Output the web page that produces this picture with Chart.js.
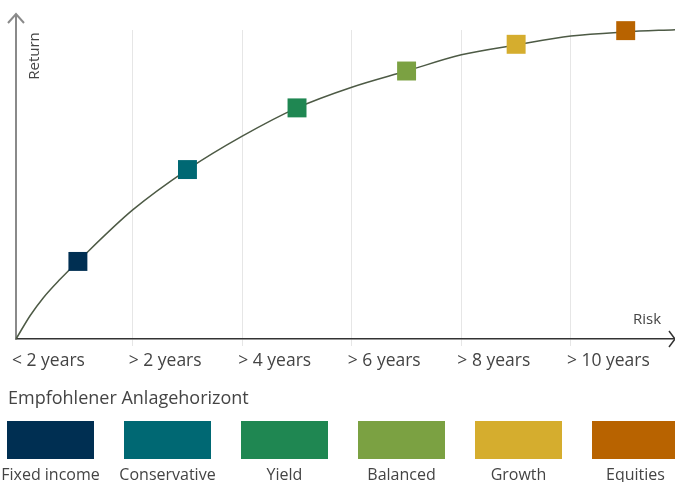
<!DOCTYPE html>
<html>
<head>
<meta charset="utf-8">
<script src="https://cdn.jsdelivr.net/npm/chart.js@4"></script>
<style>
  body { margin: 0; background: #fff; font-family: "Open Sans", sans-serif; color: #444; overflow: hidden; }
  #wrap { position: relative; width: 675px; height: 482px; }
  #wrap canvas { position: absolute; left: 0; top: 0; }
  #horizon { position: absolute; left: 8px; top: 385px; font-size: 18px; }
  #legend { position: absolute; left: 7px; top: 421px; }
  .item { position: absolute; top: 0; width: 87px; text-align: center; }
  .box { width: 87px; height: 38px; }
  .lbl { font-size: 16px; margin-top: 4px; white-space: nowrap; margin-left: -20px; margin-right: -20px; }
</style>
</head>
<body>
<div id="wrap">
  <canvas id="riskChart" width="675" height="482"></canvas>
  <div id="horizon">Empfohlener Anlagehorizont</div>
  <div id="legend"></div>
</div>
<script>
// x axis: years, y axis: return (0..~97)
var tickLabels = ["< 2 years", "> 2 years", "> 4 years", "> 6 years", "> 8 years", "> 10 years"];
var tickValues = [-0.13, 2, 4, 6, 8, 10];

// efficient frontier curve
var curveX = [-0.13, 0.13, 0.37, 0.67, 1, 2, 3, 4, 5, 6, 7, 8, 9, 10, 11, 11.9];
var curveY = [0, 7.4, 13, 18.7, 24.4, 40.6, 53.3, 63.8, 72.7, 79.2, 84.3, 89.4, 92.5, 95.3, 96.6, 97.3];

// portfolio squares
var products = ["Fixed income", "Conservative", "Yield", "Balanced", "Growth", "Equities"];
var productX = [1, 3, 5, 7, 9, 11];
var productY = [24.4, 53.3, 72.7, 84.3, 92.7, 97.0];
var productColors = ["#002f52", "#006873", "#1f8752", "#7ba142", "#d5ad2e", "#b86300"];

var axisDecor = {
    id: "axisDecor",
    afterDraw: function (chart) {
        var c = chart.ctx, a = chart.chartArea;
        c.save();
        // y axis extension + arrow
        c.strokeStyle = "#8a8a8a";
        c.lineWidth = 2;
        c.beginPath();
        c.moveTo(a.left, a.top);
        c.lineTo(a.left, 14);
        c.moveTo(a.left - 8, 23);
        c.lineTo(a.left, 14);
        c.lineTo(a.left + 8, 23);
        c.stroke();
        // x axis arrow
        c.strokeStyle = "#333";
        c.lineWidth = 1.5;
        c.beginPath();
        c.moveTo(a.right - 6, a.bottom - 8);
        c.lineTo(a.right, a.bottom);
        c.lineTo(a.right - 6, a.bottom + 8);
        c.stroke();
        // axis names
        c.fillStyle = "#444";
        c.font = "15px 'Open Sans'";
        c.textAlign = "center";
        c.textBaseline = "middle";
        c.fillText("Risk", 647, 320);
        c.translate(35, 56);
        c.rotate(-Math.PI / 2);
        c.fillText("Return", 0, 0);
        c.restore();
    }
};

var ctx = document.getElementById("riskChart").getContext("2d");
var riskChart = new Chart(ctx, {
    type: "scatter",
    data: {
        datasets: [{
            data: productX.map(function (x, i) { return { x: x, y: productY[i] }; }),
            pointStyle: "rect",
            pointRadius: 13.4,
            pointHoverRadius: 13.4,
            pointBorderWidth: 0,
            backgroundColor: productColors,
            clip: false,
            order: 0
        }, {
            type: "line",
            data: curveX.map(function (x, i) { return { x: x, y: curveY[i] }; }),
            borderColor: "#4d5a45",
            borderWidth: 1.5,
            pointRadius: 0,
            cubicInterpolationMode: "monotone",
            fill: false,
            clip: false,
            order: 1
        }]
    },
    options: {
        responsive: false,
        animation: false,
        layout: { autoPadding: false, padding: { left: 16, right: 0, top: 30, bottom: 105 } },
        plugins: { legend: { display: false }, tooltip: { enabled: false } },
        scales: {
            x: {
                type: "linear",
                min: -0.13,
                max: 11.9,
                afterBuildTicks: function (axis) {
                    axis.ticks = tickValues.map(function (v) { return { value: v }; });
                },
                grid: {
                    color: function (c) { return c.index === 0 ? "rgba(0,0,0,0)" : "#e6e6e6"; },
                    tickLength: 7
                },
                border: { color: "#333", width: 1.5 },
                ticks: {
                    align: "start",
                    labelOffset: -4,
                    padding: 5,
                    color: "#444",
                    font: { family: "Open Sans", size: 17.5 },
                    maxRotation: 0,
                    autoSkip: false,
                    callback: function (v, i) { return tickLabels[i]; }
                }
            },
            y: {
                min: 0,
                max: 97.2,
                grid: { display: false, drawTicks: false },
                border: { color: "#8a8a8a", width: 2 },
                ticks: { display: false }
            }
        }
    },
    plugins: [axisDecor]
});

// legend boxes with names below
var legend = document.getElementById("legend");
products.forEach(function (name, i) {
    var item = document.createElement("div");
    item.className = "item";
    item.style.left = (i * 117) + "px";
    item.innerHTML = '<div class="box" style="background:' + productColors[i] + '"></div><div class="lbl">' + name + '</div>';
    legend.appendChild(item);
});
</script>
</body>
</html>
